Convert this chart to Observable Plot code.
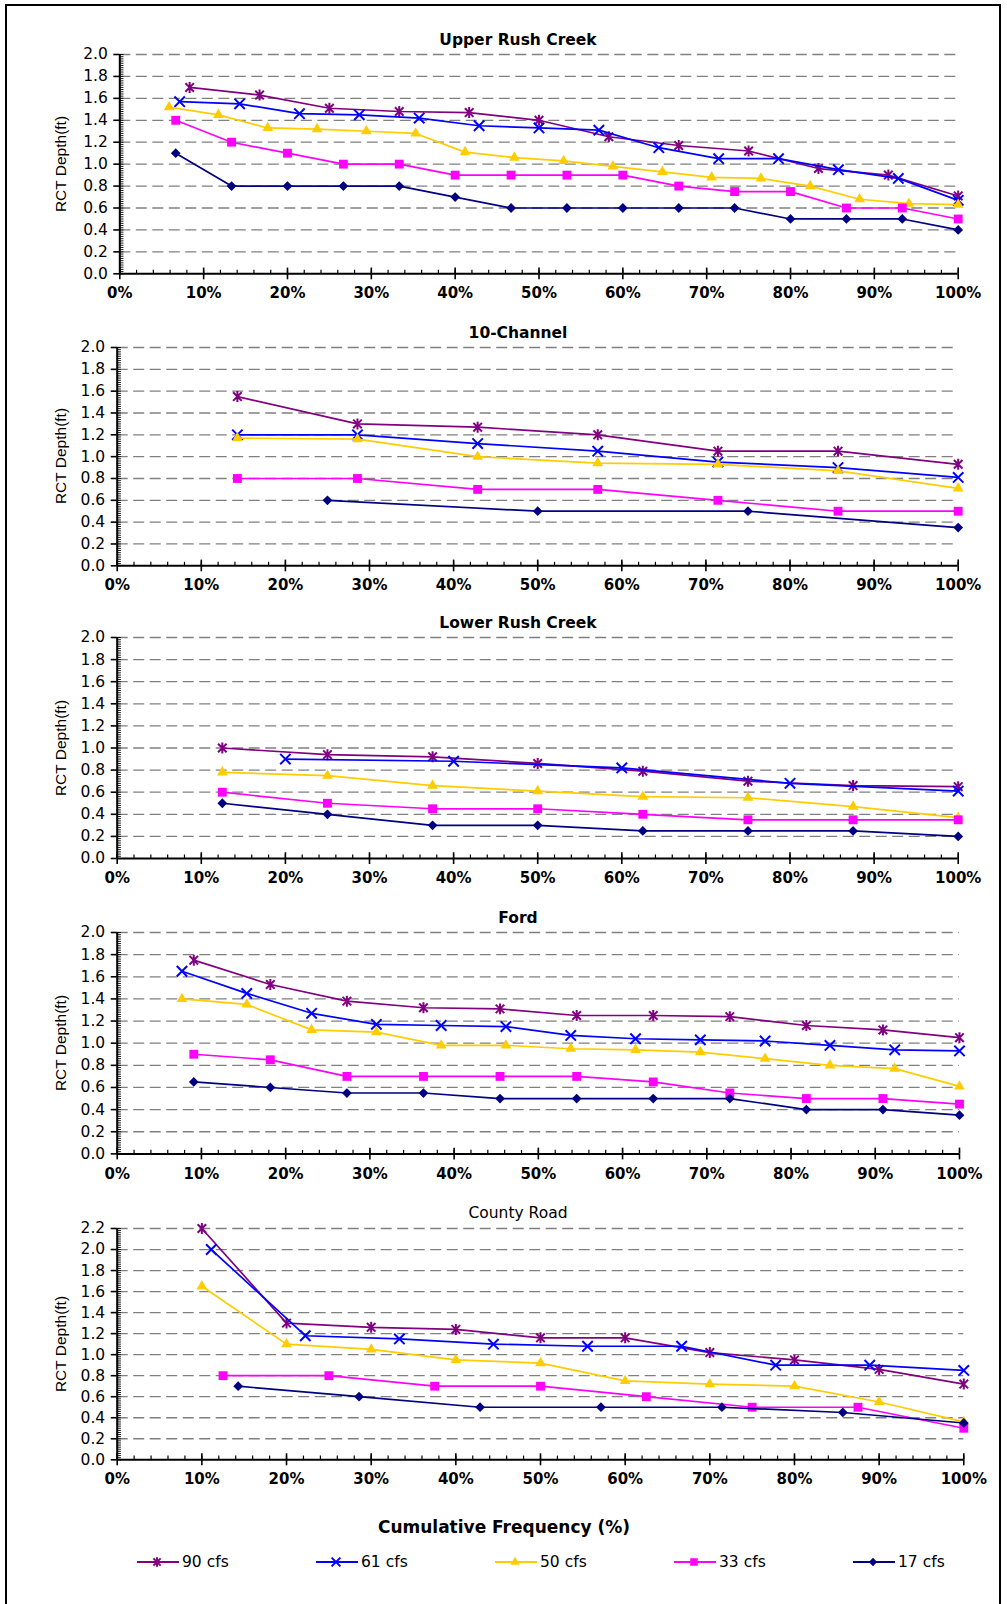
<!DOCTYPE html>
<html>
<head>
<meta charset="utf-8">
<script src="https://cdn.jsdelivr.net/npm/d3@7"></script>
<script src="https://cdn.jsdelivr.net/npm/@observablehq/plot@0.6"></script>
<style>
  body { margin: 0; background: #fff; }
  #page { position: relative; width: 1007px; height: 1604px; overflow: hidden; background: #fff; font-family: "DejaVu Sans", sans-serif; color: #000; }
  .frame { position: absolute; left: 5px; top: 4px; width: 996px; height: 1700px; border: 2px solid #000; box-sizing: border-box; }
  .panel { position: absolute; left: 0; }
  .title { position: absolute; left: 0; width: 1036px; text-align: center; font-size: 15.5px; line-height: 18px; white-space: nowrap; }
  .ylab { position: absolute; font-family: "Liberation Sans", Arial, sans-serif; font-size: 15.5px; white-space: nowrap; transform: translate(-50%, -50%) rotate(-90deg); }
  .xtitle { position: absolute; left: 0; width: 1008px; text-align: center; font-weight: bold; font-size: 17px; line-height: 20px; }
  .legitem { position: absolute; display: flex; align-items: center; font-size: 15.5px; white-space: nowrap; }
  .legitem svg { display: block; margin-right: 2px; }
  #page svg [aria-label="x-axis tick label"], #page svg [aria-label="x-axis tick label"] text { font-size: 15px !important; font-weight: bold !important; font-family: "DejaVu Sans", sans-serif !important; }
  #page svg [aria-label="y-axis tick label"], #page svg [aria-label="y-axis tick label"] text { font-size: 15.5px !important; font-weight: normal !important; font-family: "DejaVu Sans", sans-serif !important; }
</style>
</head>
<body>
<div id="page"><div class="frame"></div></div>
<script>
// ---------------- DATA ----------------
const seriesLabels = ["90 cfs", "61 cfs", "50 cfs", "33 cfs", "17 cfs"];
const panelTitles = ["Upper Rush Creek", "10-Channel", "Lower Rush Creek", "Ford", "County Road"];
const xTickValues = [0, 10, 20, 30, 40, 50, 60, 70, 80, 90, 100];

// Upper Rush Creek
const upperX90 = [8.33, 16.67, 25, 33.33, 41.67, 50, 58.33, 66.67, 75, 83.33, 91.67, 100];
const upperY90 = [1.70, 1.63, 1.51, 1.48, 1.47, 1.40, 1.25, 1.17, 1.12, 0.96, 0.90, 0.71];
const upperX61 = [7.14, 14.29, 21.43, 28.57, 35.71, 42.86, 50, 57.14, 64.29, 71.43, 78.57, 85.71, 92.86, 100];
const upperY61 = [1.57, 1.55, 1.46, 1.45, 1.42, 1.35, 1.33, 1.31, 1.15, 1.05, 1.05, 0.95, 0.87, 0.67];
const upperX50 = [5.88, 11.76, 17.65, 23.53, 29.41, 35.29, 41.18, 47.06, 52.94, 58.82, 64.71, 70.59, 76.47, 82.35, 88.24, 94.12, 100];
const upperY50 = [1.52, 1.45, 1.33, 1.32, 1.30, 1.28, 1.11, 1.06, 1.03, 0.98, 0.93, 0.88, 0.87, 0.80, 0.68, 0.64, 0.63];
const upperX33 = [6.67, 13.33, 20, 26.67, 33.33, 40, 46.67, 53.33, 60, 66.67, 73.33, 80, 86.67, 93.33, 100];
const upperY33 = [1.40, 1.20, 1.10, 1.00, 1.00, 0.90, 0.90, 0.90, 0.90, 0.80, 0.75, 0.75, 0.60, 0.60, 0.50];
const upperX17 = [6.67, 13.33, 20, 26.67, 33.33, 40, 46.67, 53.33, 60, 66.67, 73.33, 80, 86.67, 93.33, 100];
const upperY17 = [1.10, 0.80, 0.80, 0.80, 0.80, 0.70, 0.60, 0.60, 0.60, 0.60, 0.60, 0.50, 0.50, 0.50, 0.40];

// 10-Channel
const chanX90 = [14.29, 28.57, 42.86, 57.14, 71.43, 85.71, 100];
const chanY90 = [1.55, 1.30, 1.27, 1.20, 1.05, 1.05, 0.93];
const chanX61 = [14.29, 28.57, 42.86, 57.14, 71.43, 85.71, 100];
const chanY61 = [1.20, 1.20, 1.12, 1.05, 0.95, 0.90, 0.81];
const chanX50 = [14.29, 28.57, 42.86, 57.14, 71.43, 85.71, 100];
const chanY50 = [1.17, 1.16, 1.00, 0.94, 0.93, 0.87, 0.71];
const chanX33 = [14.29, 28.57, 42.86, 57.14, 71.43, 85.71, 100];
const chanY33 = [0.80, 0.80, 0.70, 0.70, 0.60, 0.50, 0.50];
const chanX17 = [25, 50, 75, 100];
const chanY17 = [0.60, 0.50, 0.50, 0.35];

// Lower Rush Creek
const lowerX90 = [12.5, 25, 37.5, 50, 62.5, 75, 87.5, 100];
const lowerY90 = [1.00, 0.94, 0.92, 0.86, 0.79, 0.70, 0.66, 0.65];
const lowerX61 = [20, 40, 60, 80, 100];
const lowerY61 = [0.90, 0.88, 0.82, 0.68, 0.61];
const lowerX50 = [12.5, 25, 37.5, 50, 62.5, 75, 87.5, 100];
const lowerY50 = [0.78, 0.75, 0.66, 0.61, 0.56, 0.55, 0.47, 0.37];
const lowerX33 = [12.5, 25, 37.5, 50, 62.5, 75, 87.5, 100];
const lowerY33 = [0.60, 0.50, 0.45, 0.45, 0.40, 0.35, 0.35, 0.35];
const lowerX17 = [12.5, 25, 37.5, 50, 62.5, 75, 87.5, 100];
const lowerY17 = [0.50, 0.40, 0.30, 0.30, 0.25, 0.25, 0.25, 0.20];

// Ford
const fordX90 = [9.09, 18.18, 27.27, 36.36, 45.45, 54.55, 63.64, 72.73, 81.82, 90.91, 100];
const fordY90 = [1.75, 1.53, 1.38, 1.32, 1.31, 1.25, 1.25, 1.24, 1.16, 1.12, 1.05];
const fordX61 = [7.69, 15.38, 23.08, 30.77, 38.46, 46.15, 53.85, 61.54, 69.23, 76.92, 84.62, 92.31, 100];
const fordY61 = [1.65, 1.45, 1.27, 1.17, 1.16, 1.15, 1.07, 1.04, 1.03, 1.02, 0.98, 0.94, 0.93];
const fordX50 = [7.69, 15.38, 23.08, 30.77, 38.46, 46.15, 53.85, 61.54, 69.23, 76.92, 84.62, 92.31, 100];
const fordY50 = [1.40, 1.35, 1.12, 1.10, 0.98, 0.98, 0.95, 0.94, 0.92, 0.86, 0.80, 0.77, 0.61];
const fordX33 = [9.09, 18.18, 27.27, 36.36, 45.45, 54.55, 63.64, 72.73, 81.82, 90.91, 100];
const fordY33 = [0.90, 0.85, 0.70, 0.70, 0.70, 0.70, 0.65, 0.55, 0.50, 0.50, 0.45];
const fordX17 = [9.09, 18.18, 27.27, 36.36, 45.45, 54.55, 63.64, 72.73, 81.82, 90.91, 100];
const fordY17 = [0.65, 0.60, 0.55, 0.55, 0.50, 0.50, 0.50, 0.50, 0.40, 0.40, 0.35];

// County Road
const roadX90 = [10, 20, 30, 40, 50, 60, 70, 80, 90, 100];
const roadY90 = [2.20, 1.30, 1.26, 1.24, 1.16, 1.16, 1.02, 0.95, 0.86, 0.72];
const roadX61 = [11.11, 22.22, 33.33, 44.44, 55.56, 66.67, 77.78, 88.89, 100];
const roadY61 = [2.00, 1.18, 1.15, 1.10, 1.08, 1.08, 0.90, 0.90, 0.85];
const roadX50 = [10, 20, 30, 40, 50, 60, 70, 80, 90, 100];
const roadY50 = [1.65, 1.10, 1.05, 0.95, 0.92, 0.75, 0.72, 0.70, 0.55, 0.36];
const roadX33 = [12.5, 25, 37.5, 50, 62.5, 75, 87.5, 100];
const roadY33 = [0.80, 0.80, 0.70, 0.70, 0.60, 0.50, 0.50, 0.30];
const roadX17 = [14.29, 28.57, 42.86, 57.14, 71.43, 85.71, 100];
const roadY17 = [0.70, 0.60, 0.50, 0.50, 0.50, 0.45, 0.35];

const yMaxByPanel = [2.0, 2.0, 2.0, 2.0, 2.2];

// ---------------- BUILD TABLES ----------------
const panelSeries = [
  [[upperX90, upperY90], [upperX61, upperY61], [upperX50, upperY50], [upperX33, upperY33], [upperX17, upperY17]],
  [[chanX90, chanY90], [chanX61, chanY61], [chanX50, chanY50], [chanX33, chanY33], [chanX17, chanY17]],
  [[lowerX90, lowerY90], [lowerX61, lowerY61], [lowerX50, lowerY50], [lowerX33, lowerY33], [lowerX17, lowerY17]],
  [[fordX90, fordY90], [fordX61, fordY61], [fordX50, fordY50], [fordX33, fordY33], [fordX17, fordY17]],
  [[roadX90, roadY90], [roadX61, roadY61], [roadX50, roadY50], [roadX33, roadY33], [roadX17, roadY17]]
];
function toRows(xs, ys) { return xs.map((x, i) => ({x, y: ys[i]})); }

// ---------------- LAYOUT & STYLE ----------------
const layout = [
  {titleY: 40,   bold: true,  yTop: 54,    yBot: 273.3,  x0: 119.3, x100: 957.7},
  {titleY: 333,  bold: true,  yTop: 347,   yBot: 565.3,  x0: 116.7, x100: 957.7},
  {titleY: 623,  bold: true,  yTop: 637.3, yBot: 858.3,  x0: 116.7, x100: 957.7},
  {titleY: 918,  bold: true,  yTop: 932.3, yBot: 1153.7, x0: 116.7, x100: 959},
  {titleY: 1213, bold: false, yTop: 1228,  yBot: 1459.3, x0: 116.7, x100: 963.3}
];

const excelStar = {
  draw(ctx, size) {
    const r = Math.sqrt(size) * 0.62, d = r * 0.78;
    ctx.moveTo(0, -r); ctx.lineTo(0, r);
    ctx.moveTo(-d, -d); ctx.lineTo(d, d);
    ctx.moveTo(-d, d); ctx.lineTo(d, -d);
  }
};
const styles = [
  {color: "#800080", symbol: excelStar,  r: 5.0, filled: false},
  {color: "#0000FF", symbol: "times",    r: 4.8, filled: false},
  {color: "#FFCC00", symbol: "triangle", r: 4.0, filled: true},
  {color: "#FF00FF", symbol: "square",   r: 5.0, filled: true},
  {color: "#000080", symbol: "diamond2", r: 4.4, filled: true}
];
const d3Symbols = {times: d3.symbolTimes, triangle: d3.symbolTriangle, square: d3.symbolSquare, diamond2: d3.symbolDiamond2};

const page = document.getElementById("page");

layout.forEach((L, p) => {
  const yMax = yMaxByPanel[p];
  const yTicks = d3.range(0, yMax + 0.001, 0.2).map(v => +v.toFixed(1));
  const gridTicks = yTicks.filter(v => v > 0);
  const minorY = d3.range(0, yMax + 0.001, 0.02).map(v => +v.toFixed(2));
  const minorX = d3.range(0, 100.001, 2);
  const mTop = 12, mBot = 34;
  const height = mTop + (L.yBot - L.yTop) + mBot;

  const marks = [
    Plot.ruleY(gridTicks, {stroke: "#808080", strokeWidth: 1.3, strokeDasharray: "11,5.5"}),
    Plot.ruleY(minorY, {x1: 0, x2: 0.5, stroke: "#000", strokeWidth: 0.9}),
    Plot.ruleX(minorX, {y1: 0, y2: yMax * 0.016, stroke: "#000", strokeWidth: 1.2}),
    Plot.ruleX(xTickValues, {y1: 0, y2: yMax * 0.026, stroke: "#000", strokeWidth: 1.6}),
    Plot.ruleX([0], {stroke: "#000", strokeWidth: 2}),
    Plot.ruleY([0], {stroke: "#000", strokeWidth: 2}),
    Plot.axisX({ticks: xTickValues, tickSize: 6, tickPadding: 8, tickFormat: d => d + "%", fontWeight: "bold", fontSize: 15, label: null, strokeWidth: 1.6}),
    Plot.axisY({ticks: yTicks, tickSize: 6, tickPadding: 6, tickFormat: d => d.toFixed(1), fontSize: 15.5, label: null, strokeWidth: 1.6})
  ];
  panelSeries[p].forEach(([xs, ys], s) => {
    const st = styles[s];
    const rows = toRows(xs, ys);
    marks.push(Plot.line(rows, {x: "x", y: "y", stroke: st.color, strokeWidth: 1.7}));
    marks.push(Plot.dot(rows, {
      x: "x", y: "y", symbol: st.symbol, r: st.r,
      fill: st.filled ? st.color : "none",
      stroke: st.filled ? "none" : st.color,
      strokeWidth: st.filled ? 0 : 2
    }));
  });

  const chart = Plot.plot({
    width: 1007,
    height,
    marginLeft: L.x0,
    marginRight: 1007 - L.x100,
    marginTop: mTop,
    marginBottom: mBot,
    style: {fontFamily: "DejaVu Sans, sans-serif", fontSize: "15px", background: "transparent", overflow: "visible", color: "#000"},
    x: {domain: [0, 100]},
    y: {domain: [0, yMax]},
    marks
  });
  const wrap = document.createElement("div");
  wrap.className = "panel";
  wrap.style.top = (L.yTop - mTop) + "px";
  wrap.appendChild(chart);
  page.appendChild(wrap);

  const t = document.createElement("div");
  t.className = "title";
  t.style.top = (L.titleY - 9) + "px";
  t.style.fontWeight = L.bold ? "bold" : "normal";
  t.textContent = panelTitles[p];
  page.appendChild(t);

  const yl = document.createElement("div");
  yl.className = "ylab";
  yl.style.left = "60.5px";
  yl.style.top = ((L.yTop + L.yBot) / 2) + "px";
  yl.textContent = "RCT Depth(ft)";
  page.appendChild(yl);
});

// x-axis title
const xt = document.createElement("div");
xt.className = "xtitle";
xt.style.top = (1527 - 10) + "px";
xt.textContent = "Cumulative Frequency (%)";
page.appendChild(xt);

// legend
const legendTextX = [182, 361, 540, 719, 898];
seriesLabels.forEach((lab, s) => {
  const st = styles[s];
  const item = document.createElement("div");
  item.className = "legitem";
  item.style.left = (legendTextX[s] - 45) + "px";
  item.style.top = (1562 - 9) + "px";
  item.style.height = "18px";
  const svg = d3.create("svg").attr("width", 43).attr("height", 18);
  svg.append("line").attr("x1", 0).attr("x2", 42).attr("y1", 9).attr("y2", 9)
    .attr("stroke", st.color).attr("stroke-width", 1.8);
  const sym = typeof st.symbol === "string" ? d3Symbols[st.symbol] : st.symbol;
  const rr = st.r * 0.85;
  svg.append("path").attr("transform", "translate(20,9)")
    .attr("d", d3.symbol(sym, Math.PI * rr * rr)())
    .attr("fill", st.filled ? st.color : "none")
    .attr("stroke", st.filled ? "none" : st.color)
    .attr("stroke-width", st.filled ? 0 : 2);
  item.appendChild(svg.node());
  const span = document.createElement("span");
  span.textContent = lab;
  item.appendChild(span);
  page.appendChild(item);
});
</script>
</body>
</html>
